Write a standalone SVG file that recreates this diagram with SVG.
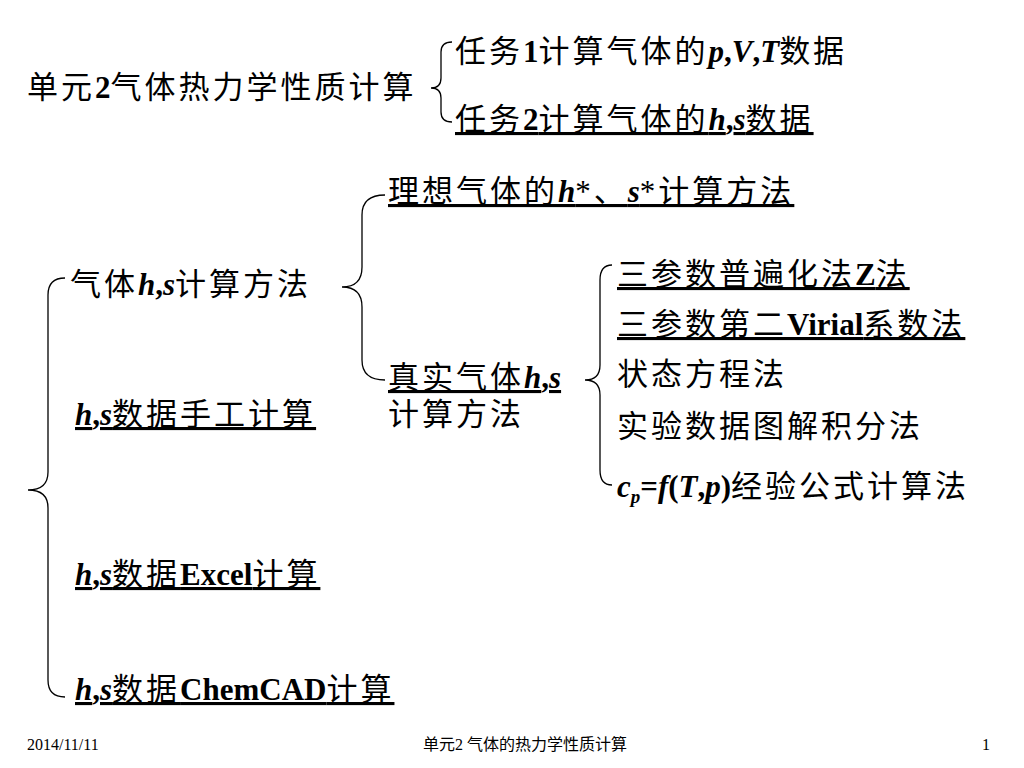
<svg xmlns="http://www.w3.org/2000/svg" width="1024" height="768" viewBox="0 0 1024 768">
<style>
text{font-family:"Liberation Serif","Noto Sans CJK SC",serif;font-size:31px;letter-spacing:3px;fill:#000}
.u{text-decoration:underline}
.b{font-weight:bold;letter-spacing:0}
.i{font-weight:bold;font-style:italic;letter-spacing:0}
.f{font-size:16px;letter-spacing:0}
path{fill:none;stroke:#000;stroke-width:1.3}
</style>
<rect width="1024" height="768" fill="#fff"/>
<g id="braces">
<path d="M452,42 Q441,42 441,52 L441,78 Q441,88 431,88 Q441,88 441,98 L441,112 Q441,122 452,122"/>
<path d="M385,195 Q362,195 362,215 L362,267 Q362,287 342,287 Q362,287 362,307 L362,360 Q362,380 385,380"/>
<path d="M612,265 Q600,265 600,280 L600,365 Q600,380 585,380 Q600,380 600,395 L600,470 Q600,485 612,485"/>
<path d="M65,278 Q48,278 48,295 L48,472 Q48,490 28,490 Q48,490 48,508 L48,680 Q48,697 65,697"/>
</g>
<g id="n1"><text x="27" y="98">单元<tspan class="b">2</tspan>气体热力学性质计算</text></g>
<g id="n2"><text x="455" y="62">任务<tspan class="b">1</tspan>计算气体的<tspan class="i">p</tspan><tspan class="b">,</tspan><tspan class="i">V</tspan><tspan class="b">,</tspan><tspan class="i">T</tspan>数据</text></g>
<g id="n3"><text class="u" x="455" y="130">任务<tspan class="b">2</tspan>计算气体的<tspan class="i">h</tspan><tspan class="b">,</tspan><tspan class="i">s</tspan>数据</text></g>
<g id="n4"><text class="u" x="388" y="202">理想气体的<tspan class="i">h</tspan>*、<tspan class="i">s</tspan>*计算方法</text></g>
<g id="n5"><text x="70" y="295">气体<tspan class="i">h</tspan><tspan class="b">,</tspan><tspan class="i">s</tspan>计算方法</text></g>
<g id="n6"><text class="u" x="388" y="388">真实气体<tspan class="i">h</tspan><tspan class="b">,</tspan><tspan class="i">s</tspan></text><text x="388" y="425">计算方法</text></g>
<g id="n7"><text class="u" x="617" y="285">三参数普遍化法<tspan class="b">Z</tspan>法</text></g>
<g id="n8"><text class="u" x="617" y="335">三参数第二<tspan class="b">Virial</tspan>系数法</text></g>
<g id="n9"><text x="617" y="385">状态方程法</text></g>
<g id="n10"><text x="617" y="437">实验数据图解积分法</text></g>
<g id="n11"><text x="617" y="497"><tspan class="i">c</tspan><tspan class="i" font-size="19" dy="6">p</tspan><tspan class="b" dy="-6">=</tspan><tspan class="i">f</tspan><tspan class="b">(</tspan><tspan class="i">T</tspan><tspan class="b">,</tspan><tspan class="i">p</tspan><tspan class="b">)</tspan>经验公式计算法</text></g>
<g id="n12"><text class="u" x="75" y="425"><tspan class="i">h</tspan><tspan class="b">,</tspan><tspan class="i">s</tspan>数据手工计算</text></g>
<g id="n13"><text class="u" x="75" y="585"><tspan class="i">h</tspan><tspan class="b">,</tspan><tspan class="i">s</tspan>数据<tspan class="b">Excel</tspan>计算</text></g>
<g id="n14"><text class="u" x="75" y="700"><tspan class="i">h</tspan><tspan class="b">,</tspan><tspan class="i">s</tspan>数据<tspan class="b">ChemCAD</tspan>计算</text></g>
<g id="footer">
<text class="f" x="27" y="750">2014/11/11</text>
<text class="f" x="525" y="750" text-anchor="middle">单元2 气体的热力学性质计算</text>
<text class="f" x="990" y="750" text-anchor="end">1</text>
</g>
</svg>
